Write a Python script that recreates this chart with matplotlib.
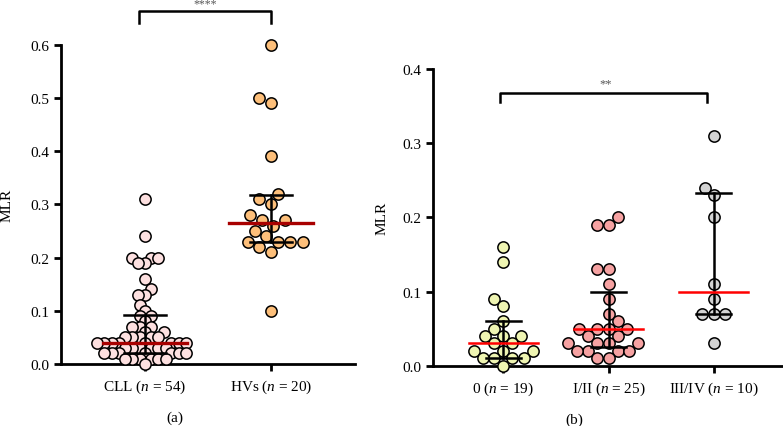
import numpy as np
import matplotlib
matplotlib.use('Agg')
import matplotlib.pyplot as plt

plt.rcParams['font.family'] = ['Liberation Serif', 'DejaVu Serif']
plt.rcParams['mathtext.fontset'] = 'custom'
plt.rcParams['mathtext.rm'] = 'Liberation Serif'
plt.rcParams['mathtext.it'] = 'Liberation Serif:italic'

# panel (a): MLR in CLL patients vs healthy volunteers
groups_a = ['CLL', 'HVs']
n_a = [54, 20]
cll = [0.31, 0.24, 0.20, 0.20, 0.20, 0.19, 0.19, 0.16, 0.14, 0.13, 0.13, 0.11,
       0.10, 0.09, 0.09, 0.08, 0.07, 0.07, 0.07, 0.06, 0.06,
       0.05, 0.05, 0.05, 0.05, 0.05,
       0.04, 0.04, 0.04, 0.04, 0.04, 0.04, 0.04, 0.04,
       0.03, 0.03, 0.03, 0.03, 0.03, 0.03,
       0.02, 0.02, 0.02, 0.02, 0.02, 0.02, 0.02,
       0.01, 0.01, 0.01, 0.01, 0.01, 0.01, 0.00]
hvs = [0.60, 0.50, 0.49, 0.39, 0.32, 0.31, 0.30, 0.28, 0.27, 0.27, 0.26, 0.25,
       0.24, 0.23, 0.23, 0.23, 0.23, 0.22, 0.21, 0.10]
colors_a = ['#fde0e0', '#fdbf7a']

# panel (b): MLR by Binet/Rai stage
groups_b = ['0', 'I/II', 'III/IV']
n_b = [19, 25, 10]
stage0 = [0.16, 0.14, 0.09, 0.08, 0.06, 0.05, 0.04, 0.04, 0.04, 0.03, 0.03,
          0.02, 0.02, 0.02, 0.01, 0.01, 0.01, 0.01, 0.00]
stage12 = [0.20, 0.19, 0.19, 0.13, 0.13, 0.11, 0.09, 0.07, 0.06,
           0.05, 0.05, 0.05, 0.05, 0.04, 0.04, 0.03, 0.03, 0.03, 0.03,
           0.02, 0.02, 0.02, 0.02, 0.01, 0.01]
stage34 = [0.31, 0.24, 0.23, 0.20, 0.11, 0.09, 0.07, 0.07, 0.07, 0.03]
colors_b = ['#eff5b2', '#f6a2a2', '#d3d3d3']


def swarm_x(ax, x0, vals, min_dist):
    # simple beeswarm in pixel space, placed from lowest value upward
    vals = np.asarray(vals, dtype=float)
    pts = ax.transData.transform(np.column_stack([np.full(len(vals), x0), vals]))
    order = np.argsort(vals, kind='stable')
    placed = []
    xs = np.zeros(len(vals))
    for i in order:
        px, py = pts[i]
        chosen = None
        for k in range(0, 200):
            for sgn in ([1] if k == 0 else [-1, 1]):
                cx = px + sgn * k * 0.5
                if all((cx - qx) ** 2 + (py - qy) ** 2 >= min_dist ** 2 for qx, qy in placed):
                    chosen = cx
                    break
            if chosen is not None:
                break
        placed.append((chosen, py))
        xs[i] = chosen
    back = ax.transData.inverted().transform(np.column_stack([xs, pts[:, 1]]))
    return back[:, 0]


def draw_group(ax, x0, vals, color, med_color, med_lw, min_dist):
    xs = swarm_x(ax, x0, vals, min_dist)
    ax.scatter(xs, vals, s=66, c=color, edgecolors='black', linewidths=1.1,
               zorder=3, clip_on=False)
    q1, med, q3 = np.percentile(vals, [25, 50, 75], method='weibull')
    ax.plot([x0, x0], [q1, q3], color='black', lw=1.8, zorder=4)
    ax.plot([x0 - 0.165, x0 + 0.165], [q1, q1], color='black', lw=1.8, zorder=4)
    ax.plot([x0 - 0.165, x0 + 0.165], [q3, q3], color='black', lw=1.8, zorder=4)
    ax.plot([x0 - 0.33, x0 + 0.33], [med, med], color=med_color, lw=med_lw, zorder=5)


def style_axis(ax, ymax, labels):
    for side in ['top', 'right']:
        ax.spines[side].set_visible(False)
    for side in ['left', 'bottom']:
        ax.spines[side].set_linewidth(2)
    ax.set_ylim(0, ymax)
    ax.set_yticks(np.arange(0, ymax + 0.001, 0.1))
    ax.set_yticklabels(['%.1f' % t for t in np.arange(0, ymax + 0.001, 0.1)])
    ax.set_xticks(range(len(labels)))
    ax.set_xticklabels(labels)
    ax.tick_params(axis='both', width=2, length=5, labelsize=11, direction='out')
    ax.tick_params(axis='x', pad=5)
    ax.set_ylabel('MLR', fontsize=11)


fig = plt.figure(figsize=(7.83, 4.27), dpi=100)

# ----- (a)
ax1 = fig.add_axes([0.0779, 0.1452, 0.3755, 0.7478])
ax1.set_xlim(-0.667, 1.667)
labels_a = ['%s ($n$ = %d)' % (g, n) for g, n in zip(groups_a, n_a)]
style_axis(ax1, 0.6, labels_a)
ax1.yaxis.set_label_coords(-0.16, 0.5)
for i, (vals, col, md) in enumerate(zip([cll, hvs], colors_a, [7.5, 12.5])):
    draw_group(ax1, i, vals, col, '#a80000', 2.4, md)
ax1.plot([-0.05, -0.05, 1.0, 1.0], [0.641, 0.664, 0.664, 0.641], color='black',
         lw=1.8, clip_on=False)
ax1.text(0.476, 0.666, '****', ha='center', va='bottom', fontsize=8.5,
         color='#555555', clip_on=False)

# ----- (b)
ax2 = fig.add_axes([0.553, 0.1412, 0.4457, 0.695])
ax2.set_xlim(-0.67, 2.65)
labels_b = ['%s ($n$ = %d)' % (g, n) for g, n in zip(groups_b, n_b)]
style_axis(ax2, 0.4, labels_b)
ax2.yaxis.set_label_coords(-0.128, 0.5)
for i, (vals, col) in enumerate(zip([stage0, stage12, stage34], colors_b)):
    draw_group(ax2, i, vals, col, '#ff0000', 1.8, 11.5)
ax2.plot([-0.035, -0.035, 1.94, 1.94], [0.356, 0.368, 0.368, 0.356], color='black',
         lw=1.8, clip_on=False)
ax2.text(0.97, 0.373, '**', ha='center', va='bottom', fontsize=9, color='#555555')

fig.text(0.2235, 0.021, '(a)', ha='center', va='center', fontsize=11)
fig.text(0.734, 0.016, '(b)', ha='center', va='center', fontsize=11)

fig.savefig('out.png', dpi=100)
